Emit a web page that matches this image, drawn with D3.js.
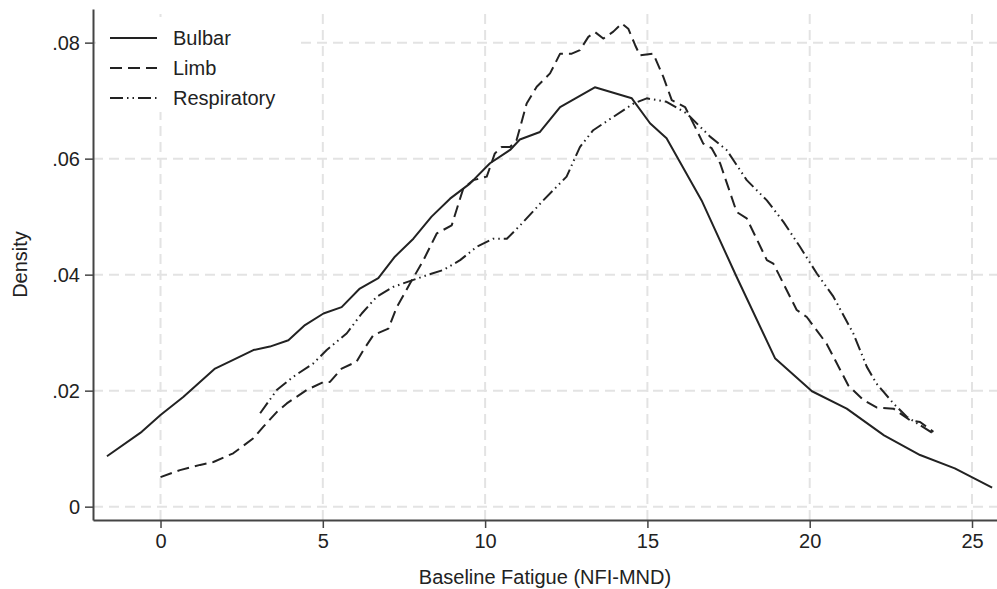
<!DOCTYPE html>
<html>
<head>
<meta charset="utf-8">
<script src="https://cdn.jsdelivr.net/npm/d3@7"></script>
<style>
  body { margin: 0; background: #fff; }
  svg { display: block; font-family: "Liberation Sans", Arial, sans-serif; }
</style>
</head>
<body>
<svg id="chart"></svg>
<script>
// data
const xTicks = [0, 5, 10, 15, 20, 25];
const yTicks = [0, 0.02, 0.04, 0.06, 0.08];
const yTickLabels = ["0", ".02", ".04", ".06", ".08"];
const seriesNames = ["Bulbar", "Limb", "Respiratory"];

const bulbarX = [-1.65, -0.58, 0.0, 0.70, 1.68, 2.24, 2.86, 3.37, 3.94, 4.45, 5.02, 5.58, 6.14, 6.71, 7.22, 7.79, 8.35, 8.92, 9.53, 10.15, 10.77, 11.07, 11.69, 12.31, 13.38, 14.52, 15.08, 15.59, 16.67, 17.75, 18.93, 20.07, 21.14, 22.29, 23.40, 24.47, 25.62];
const bulbarY = [0.0087, 0.0129, 0.0158, 0.0189, 0.0238, 0.0253, 0.0270, 0.0276, 0.0287, 0.0313, 0.0333, 0.0344, 0.0376, 0.0394, 0.0431, 0.0462, 0.0500, 0.0531, 0.0557, 0.0592, 0.0615, 0.0633, 0.0646, 0.0689, 0.0723, 0.0704, 0.0661, 0.0635, 0.0528, 0.0396, 0.0256, 0.0199, 0.0169, 0.0123, 0.0089, 0.0066, 0.0033];

const limbX = [0.0, 0.60, 1.22, 1.63, 2.24, 2.86, 3.17, 3.58, 3.89, 4.50, 5.02, 5.22, 5.58, 6.04, 6.25, 6.56, 7.02, 7.28, 7.69, 8.10, 8.51, 8.97, 9.33, 9.64, 10.05, 10.30, 10.51, 10.77, 10.97, 11.28, 11.59, 12.00, 12.31, 12.67, 12.92, 13.18, 13.39, 13.64, 13.95, 14.21, 14.41, 14.62, 14.77, 15.18, 15.49, 15.75, 16.16, 16.52, 16.72, 16.98, 17.24, 17.75, 18.06, 18.68, 18.88, 19.60, 19.91, 20.52, 21.19, 21.65, 22.06, 22.58, 23.09, 23.40, 23.81];
const limbY = [0.0051, 0.0063, 0.0072, 0.0077, 0.0092, 0.0118, 0.0138, 0.0163, 0.0178, 0.0201, 0.0215, 0.0215, 0.0238, 0.0250, 0.0270, 0.0296, 0.0307, 0.0344, 0.0385, 0.0425, 0.0471, 0.0485, 0.0549, 0.0563, 0.0569, 0.0609, 0.0620, 0.0620, 0.0632, 0.0695, 0.0724, 0.0747, 0.0781, 0.0781, 0.0787, 0.0810, 0.0818, 0.0807, 0.0819, 0.0833, 0.0824, 0.0796, 0.0778, 0.0781, 0.0741, 0.0701, 0.0689, 0.0649, 0.0626, 0.0618, 0.0592, 0.0508, 0.0497, 0.0425, 0.0419, 0.0339, 0.0327, 0.0281, 0.0209, 0.0184, 0.0171, 0.0169, 0.0149, 0.0146, 0.0129];

const respX = [3.07, 3.58, 4.09, 4.71, 5.12, 5.74, 6.20, 6.66, 7.17, 7.79, 8.20, 8.71, 9.23, 9.74, 10.25, 10.67, 11.08, 11.79, 12.51, 12.92, 13.33, 13.95, 14.57, 14.98, 15.59, 16.21, 16.93, 17.44, 18.06, 18.68, 19.19, 19.70, 20.22, 20.73, 21.34, 21.76, 22.06, 22.58, 22.99, 23.81];
const respY = [0.0161, 0.0201, 0.0224, 0.0247, 0.0270, 0.0299, 0.0333, 0.0362, 0.0379, 0.0391, 0.0399, 0.0408, 0.0425, 0.0448, 0.0462, 0.0462, 0.0485, 0.0528, 0.0569, 0.0620, 0.0649, 0.0672, 0.0695, 0.0704, 0.0698, 0.0678, 0.0638, 0.0615, 0.0563, 0.0528, 0.0491, 0.0448, 0.0402, 0.0362, 0.0299, 0.0241, 0.0212, 0.0178, 0.0155, 0.0126];

const width = 997, height = 589;
const margin = { top: 9, right: 0, bottom: 69, left: 93 };
const ink = "#222";

const svg = d3.select("#chart").attr("width", width).attr("height", height);

const x = d3.scaleLinear().domain([-2.08, 25.77]).range([margin.left, width - margin.right]);
const y = d3.scaleLinear().domain([-0.0023, 0.0858]).range([height - margin.bottom, margin.top]);

// grid
const grid = svg.append("g")
    .attr("stroke", "#e3e3e3")
    .attr("stroke-width", 2)
    .attr("stroke-dasharray", "10,6");

grid.selectAll(".vg").data(xTicks).join("line")
    .attr("x1", d => x(d)).attr("x2", d => x(d))
    .attr("y1", y.range()[0]).attr("y2", y.range()[1]);

grid.selectAll(".hg").data(yTicks).join("line")
    .attr("y1", d => y(d)).attr("y2", d => y(d))
    .attr("x1", x.range()[0]).attr("x2", x.range()[1]);

// curves
const series = [
    { name: seriesNames[0], xs: bulbarX, ys: bulbarY, dash: null },
    { name: seriesNames[1], xs: limbX, ys: limbY, dash: "12,6" },
    { name: seriesNames[2], xs: respX, ys: respY, dash: "13,4,1.5,4,1.5,4" }
];

const line = d3.line().x(d => x(d[0])).y(d => y(d[1]));

svg.append("g").selectAll("path").data(series).join("path")
    .attr("d", s => line(s.xs.map((v, i) => [v, s.ys[i]])))
    .attr("fill", "none")
    .attr("stroke", ink)
    .attr("stroke-width", 2)
    .attr("stroke-linejoin", "round")
    .attr("stroke-dasharray", s => s.dash);

// axes
const xAxis = d3.axisBottom(x).tickValues(xTicks).tickSize(8).tickPadding(6).tickSizeOuter(0);
const yAxis = d3.axisLeft(y).tickValues(yTicks).tickFormat((d, i) => yTickLabels[i]).tickSize(8).tickPadding(5).tickSizeOuter(0);

const gx = svg.append("g").attr("transform", `translate(0,${height - margin.bottom})`).call(xAxis);
const gy = svg.append("g").attr("transform", `translate(${margin.left},0)`).call(yAxis);

[gx, gy].forEach(g => {
    g.select(".domain").attr("stroke", "#444").attr("stroke-width", 2);
    g.selectAll(".tick line").attr("stroke", "#444").attr("stroke-width", 1.5);
    g.selectAll(".tick text").attr("fill", ink).attr("font-size", 20).attr("font-family", "Liberation Sans, Arial, sans-serif");
});

// axis titles
svg.append("text")
    .attr("x", (x.range()[0] + x.range()[1]) / 2)
    .attr("y", 584)
    .attr("text-anchor", "middle")
    .attr("fill", ink)
    .attr("font-size", 20)
    .text("Baseline Fatigue (NFI-MND)");

svg.append("text")
    .attr("transform", `translate(27,${(y.range()[0] + y.range()[1]) / 2}) rotate(-90)`)
    .attr("text-anchor", "middle")
    .attr("fill", ink)
    .attr("font-size", 20)
    .text("Density");

// legend (white box over the grid)
const legend = svg.append("g");
legend.append("rect")
    .attr("x", margin.left + 3).attr("y", 17)
    .attr("width", 205).attr("height", 95)
    .attr("fill", "#fff");

const rows = legend.selectAll(".row").data(series).join("g")
    .attr("transform", (d, i) => `translate(110,${38 + i * 30})`);

rows.append("line")
    .attr("x1", 0).attr("x2", 47)
    .attr("stroke", ink).attr("stroke-width", 2)
    .attr("stroke-dasharray", d => d.dash);

rows.append("text")
    .attr("x", 63).attr("dy", "0.35em")
    .attr("fill", ink).attr("font-size", 20)
    .text(d => d.name);
</script>
</body>
</html>
